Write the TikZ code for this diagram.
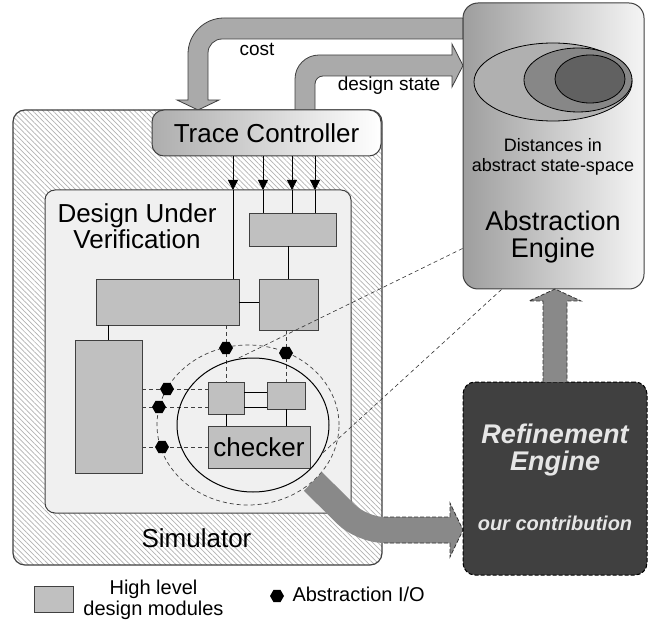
\documentclass[tikz,border=0pt]{standalone}
\usepackage{fontspec}
\setmainfont{Liberation Sans}
\usetikzlibrary{shapes.geometric,patterns.meta,arrows.meta,calc}
\definecolor{edge}{HTML}{404040}
\definecolor{modfill}{HTML}{C0C0C0}
\definecolor{duvfill}{HTML}{F0F0F0}
\definecolor{bandgray}{HTML}{AAAAAA}
\definecolor{handlegray}{HTML}{898989}
\definecolor{refill}{HTML}{404040}
\definecolor{reftext}{HTML}{E6E6E6}

\begin{document}
\begin{tikzpicture}[x=1pt,y=-1pt,
  f26/.style={font=\fontsize{26pt}{26pt}\selectfont},
  f27/.style={font=\fontsize{27pt}{27pt}\selectfont},
  f18/.style={font=\fontsize{18pt}{20pt}\selectfont},
  f19/.style={font=\fontsize{19pt}{21pt}\selectfont},
  f20/.style={font=\fontsize{20pt}{21pt}\selectfont},
  bi27/.style={font=\fontsize{27pt}{27pt}\selectfont\bfseries\itshape},
  bi20/.style={font=\fontsize{20pt}{21pt}\selectfont\bfseries\itshape},
  simbox/.style={rectangle, rounded corners=12pt, draw=edge, line width=1.2pt,
    preaction={fill=white},
    pattern={Lines[angle=-45,distance=3.6pt,line width=0.7pt]}, pattern color=black!30},
  duvbox/.style={rectangle, rounded corners=10pt, draw=edge, line width=1pt, fill=duvfill},
  tcbox/.style={rectangle, rounded corners=12pt, draw=edge, line width=1pt,
    left color=black!32, right color=white, f26, inner sep=0pt},
  absbox/.style={rectangle, rounded corners=15pt, draw=edge, line width=1pt,
    left color=black!38, right color=black!4},
  refbox/.style={rectangle, rounded corners=12pt, draw=black, line width=1pt,
    dash pattern=on 4pt off 2pt, fill=refill},
  module/.style={rectangle, draw=edge, fill=modfill, line width=0.8pt, inner sep=0pt},
  iodot/.style={regular polygon, regular polygon sides=6, fill=black, inner sep=0pt, minimum size=14pt},
  wire/.style={draw=black, line width=0.8pt},
  dwire/.style={draw=black!75, line width=0.8pt, dash pattern=on 4pt off 3pt},
  feed/.style={-{Triangle[width=10pt,length=10pt]}, line width=0.8pt},
  blockarrow/.style={fill=bandgray, draw=edge, line width=0.8pt, line join=miter},
  dashblock/.style={draw=black!80, line width=0.8pt, dash pattern=on 4pt off 2pt},
  tangent/.style={draw=black!80, line width=0.6pt, dash pattern=on 4pt off 3pt},
  blob/.style={ellipse, draw=black, line width=0.8pt, inner sep=0pt},
]
\useasboundingbox (0,0) rectangle (656,628);

% simulator and design under verification
\node[simbox, minimum width=369, minimum height=455] (sim) at (197.5,337.5) {};
\node[f26, anchor=base] (simlabel) at (196.5,547) {Simulator};
\node[duvbox, minimum width=306, minimum height=323] (duv) at (198,351.5) {};
\node[f26, align=center] (duvlabel) at (137,226) {Design Under\\Verification};

% design modules
\node[module, minimum width=87, minimum height=33] (m1) at (292.5,229.5) {};
\node[module, minimum width=143, minimum height=46] (m2) at (167.5,302) {};
\node[module, minimum width=59, minimum height=51] (m3) at (288.5,304.5) {};
\node[module, minimum width=67, minimum height=133] (m4) at (108.5,406.5) {};
\node[module, minimum width=36, minimum height=32] (m5) at (226,398) {};
\node[module, minimum width=38, minimum height=27] (m6) at (286,395.5) {};
\node[module, minimum width=102, minimum height=42, f26, inner sep=0pt] (chk) at (259,447) {checker};

% solid wiring between modules
\draw[wire] (m1.south -| m3.north) -- (m3.north);
\draw[wire] (m2.east) -- (m2.east -| m3.west);
\draw[wire] (m4.north |- m2.south) -- (m4.north);
\draw[wire] ([yshift=6pt]m5.east) -- ([yshift=6pt]m5.east -| m6.west);
\draw[wire] ([yshift=-9pt]m5.east) -- ([yshift=-9pt]m5.east -| m6.west);
\draw[wire] (m5.south) -- (m5.south |- chk.north);
\draw[wire] (m6.south) -- (m6.south |- chk.north);

% abstraction I/O points
\coordinate (p1) at (226,348);
\coordinate (p2) at (286,353);
\coordinate (p3) at (167,389);
\coordinate (p4) at (159,407);
\coordinate (p5) at (162,447);
\draw[dwire] (m5.north |- m2.south) -- (m5.north);
\draw[dwire] (m6.north |- m3.south) -- (m6.north);
\draw[dwire] (m4.east |- p3) -- (m5.west |- p3);
\draw[dwire] (m4.east |- p4) -- (m5.west |- p4);
\draw[dwire] (m4.east |- p5) -- (chk.west |- p5);

% magnifying lens around the checker
\node[ellipse, draw=black, line width=1pt, inner sep=0pt, minimum width=152, minimum height=134] (lens) at (253,425) {};
\node[ellipse, draw=black!75, line width=0.7pt, dash pattern=on 4pt off 3pt, inner sep=0pt,
  minimum width=182, minimum height=160] (rim) at (248,425) {};
\foreach \p in {p1,p2,p3,p4,p5} \node[iodot] (dot\p) at (\p) {};

% lens handle turning into the arrow towards the refinement engine
\coordinate (bend) at (362,530);
\coordinate (htip) at (463,530);
\draw[handlegray, line width=26pt, rounded corners=22pt] (rim.-41) -- (bend) -- (452,530);
\fill[handlegray] (384,517) -- (450,517) -- (450,503) -- (htip) -- (450,557) -- (450,543) -- (384,543) -- cycle;
\draw[dashblock] (384,517) -- (450,517) -- (450,503) -- (htip) -- (450,557) -- (450,543) -- (384,543);

% cost and design state arrows
\path[blockarrow] (463,18) -- (224,18) .. controls (204.1,18) and (188,34.1) .. (188,54)
  -- (188,100) -- (177,100) -- (198,110) -- (219,100) -- (208,100) -- (208,53)
  .. controls (208,45.3) and (214.3,39) .. (222,39) -- (463,39) -- cycle;
\path[blockarrow] (295,110) -- (295,79) .. controls (295,65.75) and (305.75,55) .. (319,55)
  -- (452,55) -- (452,44) -- (463,65.5) -- (452,87) -- (452,76) -- (323,76)
  .. controls (318.6,76) and (315,79.6) .. (315,84) -- (315,110) -- cycle;
\node[f19, anchor=base] (costlabel) at (257,56) {cost};
\node[f19, anchor=base] (statelabel) at (389,91) {design state};

% trace controller and its stimulus lines
\node[tcbox, minimum width=229, minimum height=46] (tc) at (266.5,133) {Trace Controller};
\coordinate (f1) at (233,190);
\coordinate (f2) at (263,190);
\coordinate (f3) at (292,190);
\coordinate (f4) at (315,190);
\foreach \f in {f1,f2,f3,f4} \draw[feed] (tc.south -| \f) -- (\f);
\draw[wire] (f1) -- (m2.north -| f1);
\foreach \f in {f2,f3,f4} \draw[wire] (\f) -- (m1.north -| \f);

% abstraction engine
\node[absbox, minimum width=181, minimum height=286] (abs) at (553.5,146) {};
\node[blob, fill=black!31, minimum width=158, minimum height=78] (e1) at (553,82) {};
\node[blob, fill=black!47, minimum width=108, minimum height=64] (e2) at (578,80) {};
\node[blob, fill=black!62, minimum width=70, minimum height=48] (e3) at (590,79) {};
\node[f18, align=center] (dist) at (553,157) {Distances in\\abstract state-space};
\node[f27, align=center] (abslabel) at (553,237) {Abstraction\\Engine};

% refinement engine
\node[refbox, minimum width=184, minimum height=193] (ref) at (555,478.5) {};
\node[bi27, align=center, text=reftext] (reflabel) at (555,450) {Refinement\\Engine};
\node[bi20, anchor=base, text=reftext] (contrib) at (555,530) {our contribution};
\path[fill=handlegray] (543,382) -- (543,301) -- (529,301) -- (555,289) -- (581,301) -- (567,301) -- (567,382) -- cycle;
\draw[dashblock] (543,382) -- (543,301) -- (529,301) -- (555,289) -- (581,301) -- (567,301) -- (567,382);

% projection of the lens onto the abstraction engine
\draw[tangent] ($(abs.south west)+(0,-41)$) -- (lens.104);
\draw[tangent] ($(abs.south west)+(39,0)$) -- (lens.-22);

% legend
\node[module, minimum width=39, minimum height=26] (legmod) at (53.5,599) {};
\node[f20, align=center] (legmodtext) at (153.5,600) {High level\\design modules};
\node[iodot] (legdot) at (277,596) {};
\node[f20, anchor=base west] (legdottext) at (289,601) {Abstraction I/O};
\end{tikzpicture}
\end{document}
